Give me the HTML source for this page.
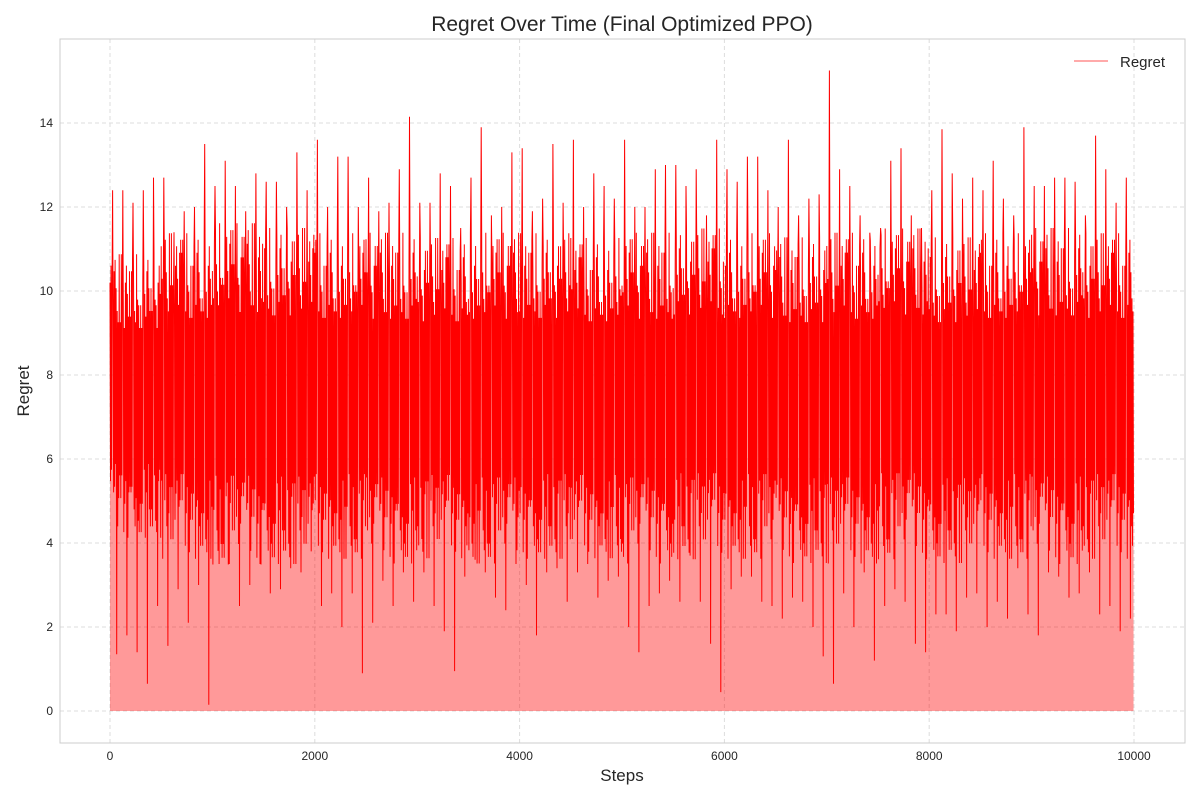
<!DOCTYPE html>
<html><head><meta charset="utf-8"><style>
body{margin:0;background:#fff;font-family:"Liberation Sans",sans-serif}
svg text{font-family:"Liberation Sans",sans-serif}
</style></head><body>
<svg id="chart" width="1200" height="800">
<text x="622" y="31" text-anchor="middle" font-size="21" fill="#262626">Regret Over Time (Final Optimized PPO)</text>
<g id="grid"></g>
<g id="series"></g>
<rect x="60" y="39" width="1125" height="704" fill="none" stroke="#ccc" stroke-width="1"/>
<g id="ticks"></g>
<text x="622" y="781" text-anchor="middle" font-size="17" fill="#262626">Steps</text>
<text transform="translate(29,391) rotate(-90)" text-anchor="middle" font-size="17" fill="#262626">Regret</text>
<g>
<line x1="1074" y1="61" x2="1108" y2="61" stroke="#f55" stroke-width="1"/>
<text x="1120" y="67" font-size="15" fill="#262626">Regret</text>
</g>
</svg>
<script>
const xTicks=[0,2000,4000,6000,8000,10000];
const yTicks=[0,2,4,6,8,10,12,14];
const binSize=100;
const binMax=[12.4,12.4,12.1,12.4,12.7,12.7,11.4,11.9,12.0,13.5,12.5,13.1,12.5,11.9,12.8,12.6,12.6,12.0,13.3,12.4,13.6,12.0,13.2,13.2,12.0,12.7,11.9,12.1,12.9,14.15,12.1,12.1,12.8,12.5,11.5,12.7,13.9,11.8,12.0,13.3,13.4,11.9,12.2,13.5,12.1,13.6,12.0,12.8,12.5,12.2,13.6,12.0,12.0,12.9,13.0,13.0,12.5,12.9,11.8,13.6,12.9,12.6,13.2,13.2,12.4,12.0,13.6,11.8,12.2,12.3,15.25,12.9,12.5,11.8,11.2,11.5,13.1,13.4,11.8,11.5,12.4,13.85,12.8,12.2,12.7,12.4,13.1,12.2,11.8,13.9,12.5,12.5,12.7,12.7,12.6,11.8,13.7,12.9,12.1,12.7];
const binMin=[1.35,1.8,1.4,0.65,2.5,1.55,2.9,2.1,3.0,0.15,3.5,3.5,2.5,3.0,3.5,2.8,2.9,3.4,3.3,3.8,2.5,2.8,2.0,2.8,0.9,2.1,3.1,2.5,3.3,2.6,3.3,2.5,1.9,0.95,3.2,3.6,3.3,2.7,2.4,3.5,3.0,1.8,3.3,3.4,2.6,3.3,3.5,2.7,3.1,3.2,2.0,1.4,2.5,2.8,3.1,2.6,3.7,2.6,1.6,0.45,2.9,3.2,3.2,2.6,2.5,2.2,2.7,2.6,2.0,1.3,0.65,2.8,2.0,3.3,1.2,2.5,2.9,2.6,1.6,1.4,2.3,2.3,1.9,2.7,2.8,2.0,2.6,2.2,3.4,2.3,1.8,3.3,3.2,2.7,2.8,3.3,2.3,2.5,1.9,2.2];
const coreHigh=[10.2,10.6,10.8,10.7,10.6,10.6,10.5,10.6,10.6,10.5,10.6,10.7,10.6,10.5,10.6,10.7,10.5,10.6,10.7,10.6];
const coreLow=[4.8,4.4,4.3,4.3,4.4,4.3,4.4,4.3,4.4,4.4,4.3,4.4,4.4,4.3,4.3,4.4,4.3,4.4,4.3,4.4];

const X=v=>110+v*(1024/10000), Y=v=>711-v*42;
const NS='http://www.w3.org/2000/svg';
const grid=document.getElementById('grid'), ticks=document.getElementById('ticks'), ser=document.getElementById('series');
function mk(tag,attrs,parent){const e=document.createElementNS(NS,tag);for(const k in attrs)e.setAttribute(k,attrs[k]);parent.appendChild(e);return e;}
xTicks.forEach(t=>{
  const g=mk('line',{x1:X(t),x2:X(t),y1:39,y2:743,stroke:'#ddd','stroke-dasharray':'4,3'},grid);
  
  
  const l=mk('text',{x:X(t),y:760,'text-anchor':'middle','font-size':12,fill:'#262626'},ticks);l.textContent=t;
  
  
});
yTicks.forEach(t=>{
  const g=mk('line',{x1:60,x2:1185,y1:Y(t),y2:Y(t),stroke:'#ddd','stroke-dasharray':'4,3'},grid);
  
  
  const l=mk('text',{x:53,y:Y(t)+4,'text-anchor':'end','font-size':12,fill:'#262626'},ticks);l.textContent=t;
  
  
});
const wig=[1,0.75,1.15,0.65,0.9,1.25,0.7,0.85,1.1,0.8,1.2,0.6,0.95];
let pts=[];
binMax.forEach((mx,i)=>{
  const hi=coreHigh[Math.floor(i/5)], lo=coreLow[Math.floor(i/5)], mid=(hi+lo)/2;
  const n=20, st=binSize/n;
  for(let k=0;k<n;k++){
    const s=i*binSize+k*st;
    let v;
    if(k===5)v=mx; else if(k===13)v=binMin[i];
    else {const w=wig[(k+i*3)%wig.length];v=(k%2===0)?mid+(hi-mid)*w:mid-(mid-lo)*w;}
    pts.push([X(s),Y(v)]);
  }
});
const d=pts.map((p,i)=>(i?'L':'M')+p[0].toFixed(1)+','+p[1].toFixed(1)).join('');
const fill=mk('path',{d:d+`L${pts[pts.length-1][0].toFixed(1)},${Y(0)}L${X(0)},${Y(0)}Z`,fill:'rgba(255,0,0,0.4)'},ser);


const line=mk('path',{d:d,fill:'none',stroke:'#f00','stroke-width':1},ser);


</script>
</body></html>
